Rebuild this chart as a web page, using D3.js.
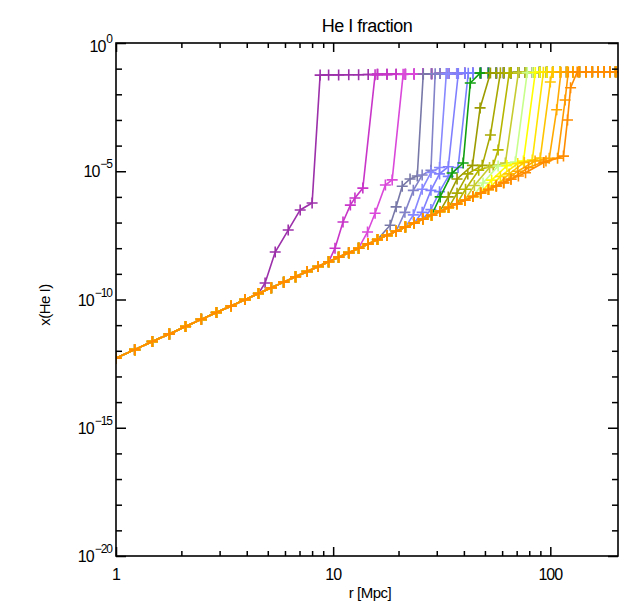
<!DOCTYPE html>
<html>
<head>
<meta charset="utf-8">
<script src="https://cdn.jsdelivr.net/npm/d3@7"></script>
<style>
body { margin: 0; background: #fff; }
text { font-family: "Liberation Sans", Arial, sans-serif; fill: #000; }
</style>
</head>
<body>
<div id="chart"></div>
<script>
// radius grid [Mpc] shared by all profiles
var baseR = [1, 1.22, 1.47, 1.76, 2.09, 2.47, 2.9, 3.39, 3.93, 4.53, 5.19, 5.92, 6.71, 7.59, 8.53, 9.53,
  10.6, 11.8, 13.1, 14.5, 16.0, 17.7, 19.5, 21.5, 23.6, 25.9, 28.4, 31.0, 34.0, 37.1, 40.4, 44.0, 47.8,
  51.9, 56.4, 61.0, 65.9, 71.3, 76.9, 83.0, 89.3, 96.2, 103, 111, 119, 127, 136, 146, 156, 166, 177, 188, 200];
// inner (ionized) part, common to all profiles
var baseY = [5.2e-13, 1.11e-12, 2.29e-12, 4.55e-12, 8.9e-12, 1.68e-11, 3.11e-11, 5.6e-11, 9.9e-11, 1.71e-10,
  2.87e-10, 4.75e-10, 7.7e-10, 1.23e-9, 1.93e-9, 2.95e-9, 4.47e-9, 6.7e-9, 9.96e-9, 1.47e-8, 2.16e-8, 3.16e-8,
  4.58e-8, 6.64e-8, 9.5e-8, 1.36e-7, 1.93e-7, 2.72e-7, 3.84e-7, 5.36e-7, 7.43e-7, 1.03e-6, 1.42e-6, 1.95e-6,
  2.67e-6, 3.6e-6, 4.86e-6, 6.56e-6, 8.77e-6, 1.17e-5, 1.55e-5, 2.06e-5, 2.72e-5, 3.56e-5, 4.65e-5, 6.05e-5];
// outer (neutral) plateau
var plateauY = [0.056, 0.056, 0.056, 0.056, 0.056, 0.056, 0.056, 0.056, 0.056, 0.056, 0.056, 0.056, 0.056, 0.056,
  0.056, 0.057, 0.057, 0.058, 0.058, 0.059, 0.060, 0.060, 0.061, 0.061, 0.062, 0.063, 0.063, 0.064, 0.064, 0.065,
  0.066, 0.066, 0.067, 0.067, 0.068, 0.069, 0.069, 0.070, 0.070, 0.071, 0.072, 0.072, 0.073, 0.073, 0.074, 0.074,
  0.075, 0.075, 0.075, 0.076, 0.076, 0.076, 0.076];

var seriesColor = ["#9c30aa", "#c835c8", "#da48da", "#7878a8", "#8282c8", "#8888ff", "#8080ff", "#7a80ff",
  "#10a010", "#9c9c00", "#a8a800", "#b6b600", "#c6cc30", "#c8ff8c", "#ffff00", "#ffe400", "#ffc400",
  "#ffaa00", "#ff9a00", "#ff8c00"];
// number of inner grid points each profile keeps before it leaves the common line
var seriesKeep = [10, 16, 19, 21, 23, 24, 25, 26, 27, 28, 29, 30, 31, 32, 33, 34, 35, 36, 37, 39];
// rise to the front and front top, [r, x]
var seriesRise = [
  [[4.86, 4.4e-10], [5.41, 7.1e-9], [6.21, 5.1e-8], [7.05, 3.1e-7], [8.0, 5.8e-7], [8.71, 0.056]],
  [[10.2, 1.0e-8], [11.1, 1.05e-7], [12.0, 4.8e-7], [12.6, 9.1e-7], [13.7, 2.2e-6], [15.6, 0.058]],
  [[14.4, 4.3e-8], [15.6, 2.3e-7], [17.4, 2.9e-6], [18.7, 4.6e-6], [21.0, 0.060]],
  [[18.3, 7.9e-8], [19.5, 4.1e-7], [20.8, 2.6e-6], [22.6, 5.0e-6], [24.4, 6.5e-6], [26.0, 0.062]],
  [[21.4, 2.5e-7], [23.4, 1.8e-6], [25.7, 7.1e-6], [28.2, 1.1e-5], [29.5, 0.063]],
  [[23.4, 2.0e-7], [25.7, 2.0e-6], [28.2, 8.9e-6], [30.9, 1.4e-5], [33.2, 0.064]],
  [[25.7, 2.5e-7], [28.2, 1.8e-6], [30.9, 7.9e-6], [33.9, 1.5e-5], [37.7, 0.065]],
  [[28.2, 3.2e-7], [30.9, 1.6e-6], [33.9, 6.3e-6], [37.6, 1.4e-5], [41.9, 0.066]],
  [[31.1, 1.0e-6], [35.3, 8.5e-6], [39.7, 2.1e-5], [42.8, 0.0275], [47.5, 0.067]],
  [[33.9, 1.0e-6], [37.2, 5.0e-6], [43.8, 1.7e-5], [47.5, 2.95e-3], [53.0, 0.068]],
  [[37.2, 1.4e-6], [41.7, 7.9e-6], [48.6, 1.7e-5], [53.0, 2.6e-4], [58.9, 0.069]],
  [[40.7, 2.0e-6], [46.8, 1.1e-5], [54.6, 1.7e-5], [57.5, 6.8e-5], [64.7, 0.069]],
  [[44.7, 2.8e-6], [52.5, 1.4e-5], [62.1, 2.1e-5], [71.3, 0.070]],
  [[49.0, 3.5e-6], [57.5, 1.6e-5], [69.0, 2.3e-5], [78.3, 0.070]],
  [[53.7, 4.5e-6], [63.1, 1.66e-5], [75.2, 2.5e-5], [85.3, 0.071]],
  [[58.9, 6.3e-6], [70.8, 2.0e-5], [82.6, 2.75e-5], [92.9, 0.072]],
  [[64.6, 7.9e-6], [75.9, 2.2e-5], [89.9, 3.3e-5], [100, 0.030], [102, 0.073]],
  [[70.8, 1.0e-5], [85.1, 2.5e-5], [98.9, 3.2e-5], [107, 2.5e-3], [112, 0.073]],
  [[79.4, 1.4e-5], [95.5, 2.5e-5], [108, 3.2e-5], [117, 6.0e-3], [121, 0.074]],
  [[93.3, 2.2e-5], [115, 3.9e-5], [120, 1.0e-3], [124, 0.018], [133, 0.074]]
];

var xMajor = [1, 10, 100];
var xMinor = [2, 3, 4, 5, 6, 7, 8, 9, 20, 30, 40, 50, 60, 70, 80, 90];
var yMajor = [1e0, 1e-5, 1e-10, 1e-15, 1e-20];
var yMajorExp = ["0", "-5", "-10", "-15", "-20"];
var yMinor = [1e-1, 1e-2, 1e-3, 1e-4, 1e-6, 1e-7, 1e-8, 1e-9, 1e-11, 1e-12, 1e-13, 1e-14,
  1e-16, 1e-17, 1e-18, 1e-19];

var W = 625, H = 604;
var pLeft = 116, pRight = 618, pTop = 43, pBottom = 556;

var svg = d3.select("#chart").append("svg")
  .attr("width", W)
  .attr("height", H);

var x = d3.scaleLog().domain([1, 205]).range([pLeft, pRight]);
var y = d3.scaleLog().domain([1e-20, 1]).range([pBottom, pTop]);

svg.append("clipPath").attr("id", "clip")
  .append("rect")
  .attr("x", pLeft).attr("y", pTop)
  .attr("width", pRight - pLeft).attr("height", pBottom - pTop);

// build every profile
var profiles = seriesColor.map(function (c, k) {
  var pts = [];
  for (var i = 0; i < seriesKeep[k]; i++) pts.push([baseR[i], baseY[i]]);
  seriesRise[k].forEach(function (p) { pts.push(p); });
  var rTop = seriesRise[k][seriesRise[k].length - 1][0];
  baseR.forEach(function (r, i) {
    if (r > rTop) pts.push([r, plateauY[i]]);
  });
  return { color: c, pts: pts };
});

var line = d3.line()
  .x(function (d) { return x(d[0]); })
  .y(function (d) { return y(d[1]); });

var g = svg.append("g").attr("clip-path", "url(#clip)");

profiles.forEach(function (p) {
  var s = g.append("g");
  s.append("path")
    .datum(p.pts)
    .attr("d", line)
    .attr("fill", "none")
    .attr("stroke", p.color)
    .attr("stroke-width", 1.6);
  s.selectAll("path.mk")
    .data(p.pts)
    .enter().append("path")
    .attr("class", "mk")
    .attr("d", function (d) {
      var px = x(d[0]), py = y(d[1]);
      return "M" + (px - 5.5) + "," + py + "h11M" + px + "," + (py - 5.5) + "v11";
    })
    .attr("stroke", p.color)
    .attr("stroke-width", 1.6);
});

// axes: ticks on all four sides, pointing in
function noLabel() { return ""; }
svg.append("g").attr("transform", "translate(0," + pBottom + ")")
  .call(d3.axisBottom(x).tickValues(xMajor).tickSize(-9).tickFormat(noLabel));
svg.append("g").attr("transform", "translate(0," + pBottom + ")")
  .call(d3.axisBottom(x).tickValues(xMinor).tickSize(-5).tickFormat(noLabel));
svg.append("g").attr("transform", "translate(0," + pTop + ")")
  .call(d3.axisTop(x).tickValues(xMajor).tickSize(-9).tickFormat(noLabel));
svg.append("g").attr("transform", "translate(0," + pTop + ")")
  .call(d3.axisTop(x).tickValues(xMinor).tickSize(-5).tickFormat(noLabel));
svg.append("g").attr("transform", "translate(" + pLeft + ",0)")
  .call(d3.axisLeft(y).tickValues(yMajor).tickSize(-10).tickFormat(noLabel));
svg.append("g").attr("transform", "translate(" + pLeft + ",0)")
  .call(d3.axisLeft(y).tickValues(yMinor).tickSize(-6).tickFormat(noLabel));
svg.append("g").attr("transform", "translate(" + pRight + ",0)")
  .call(d3.axisRight(y).tickValues(yMajor).tickSize(-10).tickFormat(noLabel));
svg.append("g").attr("transform", "translate(" + pRight + ",0)")
  .call(d3.axisRight(y).tickValues(yMinor).tickSize(-6).tickFormat(noLabel));

svg.selectAll(".domain").remove();
svg.selectAll(".tick line").attr("stroke", "#000").attr("stroke-width", 1.5);

svg.append("rect")
  .attr("x", pLeft).attr("y", pTop)
  .attr("width", pRight - pLeft).attr("height", pBottom - pTop)
  .attr("fill", "none")
  .attr("stroke", "#000")
  .attr("stroke-width", 1.6);

// tick labels
svg.selectAll("text.xl")
  .data(xMajor)
  .enter().append("text")
  .attr("class", "xl")
  .attr("x", function (d) { return x(d); })
  .attr("y", 580)
  .attr("text-anchor", "middle")
  .style("font-size", "16px")
  .style("letter-spacing", "-1px")
  .text(function (d) { return d; });

var yl = svg.selectAll("text.yl")
  .data(yMajor)
  .enter().append("text")
  .attr("class", "yl")
  .attr("x", 112)
  .attr("y", function (d, i) { return y(d) + (i === 0 ? 9 : 6); })
  .attr("text-anchor", "end")
  .style("font-size", "16px")
  .style("letter-spacing", "-1px");
yl.append("tspan").text("10");
yl.append("tspan")
  .attr("dy", -9)
  .attr("dx", 1)
  .style("font-size", "12px")
  .text(function (d, i) { return yMajorExp[i].replace("-", "\u2212"); });

// titles
svg.append("text")
  .attr("x", (pLeft + pRight) / 2)
  .attr("y", 32)
  .attr("text-anchor", "middle")
  .style("font-size", "18px")
  .style("letter-spacing", "-0.5px")
  .text("He I fraction");

svg.append("text")
  .attr("x", 370)
  .attr("y", 598)
  .attr("text-anchor", "middle")
  .style("font-size", "15px")
  .style("letter-spacing", "-0.5px")
  .text("r [Mpc]");

svg.append("text")
  .attr("transform", "translate(50,305) rotate(-90)")
  .attr("text-anchor", "middle")
  .style("font-size", "15px")
  .style("letter-spacing", "-0.5px")
  .text("x(He I)");
</script>
</body>
</html>
